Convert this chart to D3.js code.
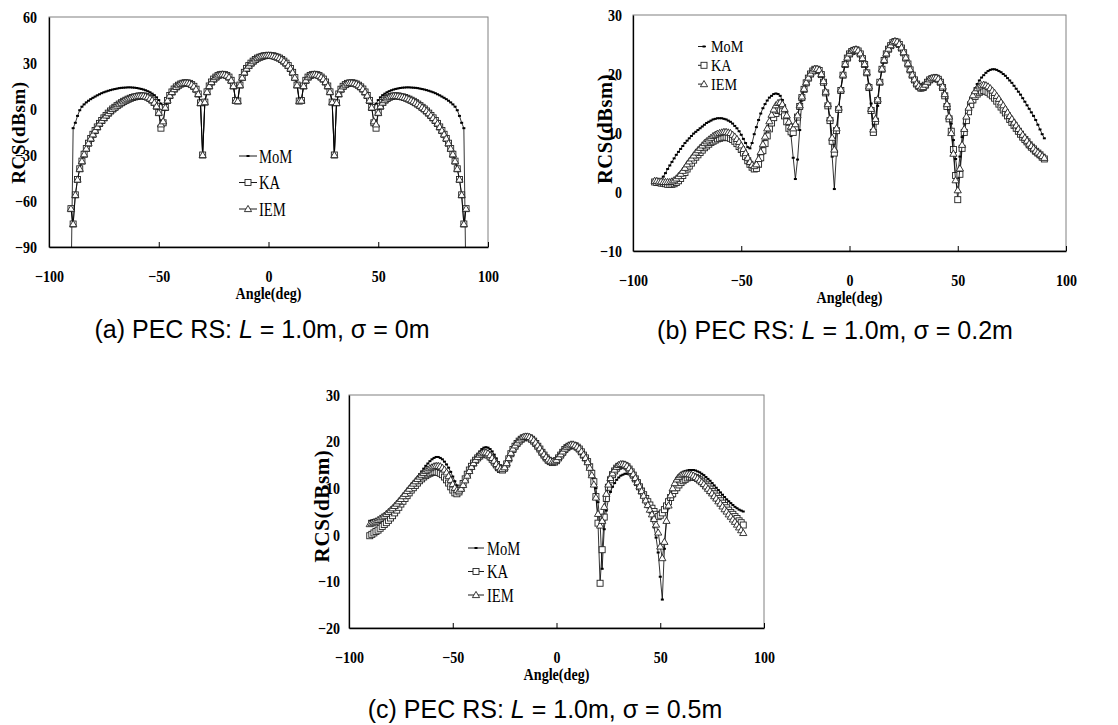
<!DOCTYPE html>
<html>
<head>
<meta charset="utf-8">
<script src="https://cdn.jsdelivr.net/npm/d3@7"></script>
<style>
  body { margin: 0; background: #fff; }
  svg { display: block; }
</style>
</head>
<body>
<svg id="fig" width="1118" height="725"></svg>
<script>
// Incidence angle grid, one sample per degree
const angles = d3.range(-90, 91);

// (a) sigma = 0m
const momA = [
  -120, -12.5, -9.0, -4.5, -0.8, 1.5, 3.0, 4.3, 5.4, 6.4,
  7.3, 8.1, 8.9, 9.6, 10.3, 10.9, 11.4, 11.9, 12.3, 12.7,
  13.0, 13.3, 13.6, 13.8, 13.9, 14.0, 14.1, 14.1, 14.0, 13.9,
  13.7, 13.4, 13.1, 12.7, 12.2, 11.6, 10.9, 10.0, 9.0, 7.6,
  5.8, 3.5, 2.5, 4.0, 7.0, 10.2, 12.6, 14.5, 15.7, 16.7,
  17.4, 17.9, 18.1, 18.0, 17.6, 16.8, 15.7, 13.7, 10.5, 4.5,
  -30, 5.0, 11.8, 15.7, 18.4, 20.3, 21.7, 22.7, 23.3, 23.5,
  23.3, 22.8, 21.6, 19.4, 15.6, 6.0, 6.0, 16.5, 21.5, 25.0,
  27.6, 29.6, 31.2, 32.5, 33.6, 34.5, 35.1, 35.6, 36.0, 36.2,
  36.3, 36.2, 36.0, 35.6, 35.1, 34.5, 33.6, 32.5, 31.2, 29.6,
  27.6, 25.0, 21.5, 16.5, 6.0, 6.0, 15.6, 19.4, 21.6, 22.8,
  23.3, 23.5, 23.3, 22.7, 21.7, 20.3, 18.4, 15.7, 11.8, 5.0,
  -30, 4.5, 10.5, 13.7, 15.7, 16.8, 17.6, 18.0, 18.1, 17.9,
  17.4, 16.7, 15.7, 14.5, 12.6, 10.2, 7.0, 4.0, 2.5, 3.5,
  5.8, 7.6, 9.0, 10.0, 10.9, 11.6, 12.2, 12.7, 13.1, 13.4,
  13.7, 13.9, 14.0, 14.1, 14.1, 14.0, 13.9, 13.8, 13.6, 13.3,
  13.0, 12.7, 12.3, 11.9, 11.4, 10.9, 10.3, 9.6, 8.9, 8.1,
  7.3, 6.4, 5.4, 4.3, 3.0, 1.5, -0.8, -4.5, -9.0, -12.5, -120
];
const kaA = [
  -65, -75, -56, -46, -39, -34, -29.5, -25.8, -22.3, -19.2,
  -16.5, -14.0, -11.7, -9.4, -7.5, -5.8, -4.2, -2.7, -1.3, 0.0,
  1.1, 2.2, 3.2, 4.1, 5.0, 5.7, 6.4, 7.0, 7.5, 7.9,
  8.2, 8.5, 8.6, 8.5, 8.2, 7.7, 6.9, 5.8, 4.2, 1.8,
  -2.4, -12.5, -9.0, 1.0, 5.6, 8.8, 11.1, 13.0, 14.4, 15.5,
  16.3, 16.8, 17.1, 17.0, 16.7, 15.9, 14.8, 12.9, 9.8, 4.0,
  -30, 4.5, 11.2, 15.0, 17.6, 19.5, 20.8, 21.8, 22.4, 22.6,
  22.4, 21.9, 20.8, 18.7, 15.0, 5.5, 5.2, 15.6, 20.5, 23.9,
  26.4, 28.3, 29.9, 31.2, 32.3, 33.2, 33.8, 34.3, 34.7, 34.9,
  35.0, 34.9, 34.7, 34.3, 33.8, 33.2, 32.3, 31.2, 29.9, 28.3,
  26.4, 23.9, 20.5, 15.6, 5.2, 5.5, 15.0, 18.7, 20.8, 21.9,
  22.4, 22.6, 22.4, 21.8, 20.8, 19.5, 17.6, 15.0, 11.2, 4.5,
  -30, 4.0, 9.8, 12.9, 14.8, 15.9, 16.7, 17.0, 17.1, 16.8,
  16.3, 15.5, 14.4, 13.0, 11.1, 8.8, 5.6, 1.0, -9.0, -12.5,
  -2.4, 1.8, 4.2, 5.8, 6.9, 7.7, 8.2, 8.5, 8.6, 8.5,
  8.2, 7.9, 7.5, 7.0, 6.4, 5.7, 5.0, 4.1, 3.2, 2.2,
  1.1, 0.0, -1.3, -2.7, -4.2, -5.8, -7.5, -9.4, -11.7, -14.0,
  -16.5, -19.2, -22.3, -25.8, -29.5, -34, -39, -46, -56, -75, -65
];
const iemA = [
  -65, -75, -56, -46, -39, -34, -29.5, -25.8, -22.3, -19.2,
  -16.5, -14.0, -11.7, -9.4, -7.5, -5.8, -4.2, -2.7, -1.3, 0.0,
  1.1, 2.2, 3.2, 4.1, 5.0, 5.7, 6.4, 7.0, 7.5, 7.9,
  8.2, 8.5, 8.6, 8.5, 8.2, 7.7, 6.9, 5.8, 4.2, 1.8,
  -2.4, -10.0, -8.0, 1.0, 5.6, 8.8, 11.1, 13.0, 14.4, 15.5,
  16.3, 16.8, 17.1, 17.0, 16.7, 15.9, 14.8, 12.9, 9.8, 4.0,
  -30, 4.5, 11.2, 15.0, 17.6, 19.5, 20.8, 21.8, 22.4, 22.6,
  22.4, 21.9, 20.8, 18.7, 15.0, 5.5, 5.2, 15.6, 20.5, 23.9,
  26.4, 28.3, 29.9, 31.2, 32.3, 33.2, 33.8, 34.3, 34.7, 34.9,
  35.0, 34.9, 34.7, 34.3, 33.8, 33.2, 32.3, 31.2, 29.9, 28.3,
  26.4, 23.9, 20.5, 15.6, 5.2, 5.5, 15.0, 18.7, 20.8, 21.9,
  22.4, 22.6, 22.4, 21.8, 20.8, 19.5, 17.6, 15.0, 11.2, 4.5,
  -30, 4.0, 9.8, 12.9, 14.8, 15.9, 16.7, 17.0, 17.1, 16.8,
  16.3, 15.5, 14.4, 13.0, 11.1, 8.8, 5.6, 1.0, -8.0, -10.0,
  -2.4, 1.8, 4.2, 5.8, 6.9, 7.7, 8.2, 8.5, 8.6, 8.5,
  8.2, 7.9, 7.5, 7.0, 6.4, 5.7, 5.0, 4.1, 3.2, 2.2,
  1.1, 0.0, -1.3, -2.7, -4.2, -5.8, -7.5, -9.4, -11.7, -14.0,
  -16.5, -19.2, -22.3, -25.8, -29.5, -34, -39, -46, -56, -75, -65
];

// (b) sigma = 0.2m
const momB = [
  1.8, 1.8, 1.9, 2.1, 2.6, 3.2, 3.9, 4.5, 5.1, 5.7,
  6.3, 6.8, 7.3, 7.8, 8.3, 8.7, 9.1, 9.5, 9.9, 10.2,
  10.5, 10.8, 11.1, 11.4, 11.7, 11.9, 12.1, 12.3, 12.4, 12.5,
  12.5, 12.5, 12.4, 12.3, 12.1, 11.9, 11.6, 11.2, 10.8, 10.3,
  9.7, 9.0, 8.3, 7.6, 7.4, 8.3, 9.8, 11.0, 12.2, 13.3,
  14.2, 14.9, 15.5, 16.0, 16.3, 16.6, 16.7, 16.6, 16.3, 15.6,
  14.7, 13.5, 11.9, 9.5, 5.8, 2.2, 5.5, 10.5, 15.5, 17.5,
  18.7, 19.5, 20.2, 20.7, 21.0, 21.0, 20.8, 20.1, 18.9, 17.2,
  15.0, 11.8, 6.0, 0.5, 6.8, 14.2, 17.6, 20.0, 21.8, 22.9,
  23.6, 24.0, 24.2, 24.3, 24.1, 23.6, 22.8, 21.8, 20.5, 18.3,
  15.0, 11.5, 9.8, 14.6, 18.5, 20.9, 22.4, 23.5, 24.4, 25.0,
  25.5, 25.7, 25.6, 25.2, 24.6, 23.8, 22.9, 21.8, 20.7, 19.6,
  18.7, 18.0, 17.4, 17.2, 17.4, 17.9, 18.6, 19.1, 19.5, 19.7,
  19.8, 19.6, 19.2, 18.5, 17.4, 15.9, 14.0, 11.6, 8.8, 5.6,
  3.0, 6.0, 9.3, 11.6, 13.3, 14.7, 15.8, 16.8, 17.6, 18.3,
  18.9, 19.4, 19.8, 20.2, 20.5, 20.7, 20.8, 20.8, 20.7, 20.5,
  20.3, 20.0, 19.7, 19.3, 18.9, 18.5, 18.0, 17.5, 17.0, 16.5,
  15.9, 15.3, 14.7, 14.1, 13.5, 12.9, 12.2, 11.4, 10.6, 9.8, 9.1
];
const kaB = [
  1.7, 1.6, 1.6, 1.5, 1.5, 1.4, 1.3, 1.3, 1.3, 1.4,
  1.6, 1.9, 2.3, 2.8, 3.3, 3.9, 4.4, 4.9, 5.4, 5.9,
  6.3, 6.7, 7.1, 7.5, 7.8, 8.1, 8.4, 8.6, 8.8, 9.0,
  9.1, 9.2, 9.3, 9.3, 9.2, 9.1, 8.9, 8.6, 8.2, 7.7,
  7.2, 6.6, 6.0, 5.3, 4.7, 4.2, 3.9, 4.0, 4.7, 5.8,
  7.0, 8.2, 9.5, 10.7, 11.7, 12.6, 13.3, 13.8, 13.9, 13.6,
  12.9, 11.9, 10.8, 10.2, 10.1, 11.0, 12.7, 14.5, 16.0, 17.4,
  18.5, 19.3, 20.0, 20.5, 20.8, 20.8, 20.6, 19.9, 18.6, 16.8,
  14.6, 12.1, 8.6, 6.6, 10.4, 14.0, 17.2, 19.8, 21.6, 22.7,
  23.4, 23.8, 24.0, 24.1, 23.9, 23.4, 22.6, 21.6, 20.2, 17.7,
  13.8, 10.1, 12.0, 15.5, 18.6, 20.8, 22.3, 23.4, 24.2, 24.8,
  25.3, 25.5, 25.4, 25.0, 24.4, 23.6, 22.7, 21.7, 20.7, 19.8,
  19.0, 18.3, 17.9, 17.6, 17.7, 18.1, 18.6, 19.0, 19.2, 19.3,
  19.3, 19.1, 18.6, 17.7, 16.3, 14.5, 12.4, 10.3, 7.2, 2.8,
  -1.3, 3.0, 7.4, 10.1, 12.1, 13.6, 14.8, 15.6, 16.2, 16.6,
  16.9, 17.1, 17.2, 17.1, 16.9, 16.6, 16.3, 15.9, 15.4, 14.9,
  14.4, 13.9, 13.4, 12.9, 12.3, 11.8, 11.3, 10.8, 10.3, 9.8,
  9.3, 8.9, 8.5, 8.0, 7.6, 7.3, 6.9, 6.6, 6.3, 5.9, 5.6
];
const iemB = [
  1.9, 1.9, 1.8, 1.8, 1.7, 1.7, 1.7, 1.7, 1.8, 2.0,
  2.3, 2.7, 3.1, 3.6, 4.1, 4.7, 5.2, 5.7, 6.2, 6.7,
  7.1, 7.5, 7.9, 8.3, 8.6, 8.9, 9.2, 9.5, 9.7, 9.9,
  10.0, 10.1, 10.2, 10.2, 10.1, 10.0, 9.7, 9.4, 9.0, 8.5,
  7.9, 7.3, 6.6, 5.8, 5.1, 4.6, 4.4, 4.7, 5.6, 6.8,
  8.1, 9.4, 10.8, 12.0, 13.1, 14.0, 14.7, 15.1, 15.2, 14.9,
  14.1, 13.0, 11.9, 11.1, 10.8, 11.5, 13.0, 14.7, 16.2, 17.5,
  18.6, 19.4, 20.1, 20.6, 20.9, 20.9, 20.7, 20.0, 18.8, 17.0,
  14.9, 12.5, 9.2, 7.2, 10.8, 14.3, 17.4, 19.9, 21.7, 22.8,
  23.5, 23.9, 24.1, 24.2, 24.0, 23.5, 22.7, 21.7, 20.3, 17.9,
  14.1, 10.6, 12.4, 15.7, 18.7, 20.9, 22.4, 23.5, 24.3, 24.9,
  25.4, 25.6, 25.5, 25.1, 24.5, 23.7, 22.8, 21.8, 20.8, 19.9,
  19.1, 18.4, 18.0, 17.7, 17.8, 18.2, 18.7, 19.1, 19.3, 19.4,
  19.4, 19.2, 18.7, 17.9, 16.6, 14.9, 12.8, 10.0, 6.5, 2.0,
  0.3, 4.0, 8.0, 10.7, 12.8, 14.3, 15.5, 16.4, 17.1, 17.6,
  17.9, 18.1, 18.2, 18.1, 17.9, 17.6, 17.2, 16.8, 16.3, 15.8,
  15.2, 14.7, 14.1, 13.5, 12.9, 12.4, 11.8, 11.3, 10.7, 10.2,
  9.7, 9.2, 8.7, 8.2, 7.8, 7.4, 7.0, 6.7, 6.4, 6.1, 5.8
];

// (c) sigma = 0.5m
const momC = [
  3.0, 3.1, 3.2, 3.3, 3.4, 3.6, 3.8, 4.0, 4.3, 4.5,
  4.8, 5.2, 5.7, 6.2, 6.7, 7.2, 7.8, 8.4, 9.0, 9.7,
  10.3, 11.0, 11.7, 12.3, 13.0, 13.6, 14.2, 14.8, 15.3, 15.8,
  16.2, 16.5, 16.7, 16.7, 16.5, 16.2, 15.7, 15.1, 14.4, 13.5,
  12.5, 11.5, 10.6, 10.1, 10.3, 11.0, 11.9, 12.9, 13.9, 14.9,
  15.8, 16.6, 17.3, 17.9, 18.4, 18.7, 18.8, 18.7, 18.4, 17.9,
  17.2, 16.4, 15.6, 14.9, 14.4, 14.5, 15.2, 16.4, 17.6, 18.6,
  19.4, 20.0, 20.6, 21.0, 21.3, 21.5, 21.5, 21.4, 21.1, 20.6,
  20.0, 19.4, 18.8, 18.2, 17.6, 17.1, 16.7, 16.4, 16.3, 16.3,
  16.6, 17.1, 17.7, 18.3, 18.8, 19.2, 19.5, 19.7, 19.7, 19.6,
  19.3, 18.9, 18.4, 17.7, 16.9, 16.0, 15.0, 13.8, 12.2, 10.0,
  7.0, 2.8, -7.3, 1.2, 5.2, 7.6, 9.2, 10.3, 11.1, 11.8,
  12.3, 12.7, 12.9, 13.1, 13.1, 13.0, 12.7, 12.3, 11.8, 11.1,
  10.3, 9.4, 8.4, 7.3, 6.1, 4.8, 3.3, 1.6, -0.6, -3.8,
  -9.0, -13.9, -3.0, 3.0, 6.6, 8.8, 10.3, 11.4, 12.2, 12.8,
  13.2, 13.5, 13.7, 13.8, 13.9, 13.9, 13.9, 13.8, 13.6, 13.4,
  13.1, 12.8, 12.4, 12.0, 11.6, 11.1, 10.6, 10.1, 9.6, 9.1,
  8.6, 8.1, 7.6, 7.2, 6.8, 6.4, 6.0, 5.7, 5.4, 5.2, 5.0
];
const kaC = [
  -0.2, 0.1, 0.4, 0.7, 1.0, 1.4, 1.8, 2.2, 2.6, 3.1,
  3.6, 4.1, 4.7, 5.3, 5.9, 6.6, 7.2, 7.8, 8.4, 9.0,
  9.6, 10.1, 10.6, 11.1, 11.6, 12.0, 12.4, 12.7, 13.0, 13.2,
  13.4, 13.5, 13.5, 13.4, 13.2, 12.9, 12.4, 11.8, 11.1, 10.3,
  9.6, 9.0, 8.8, 9.2, 10.0, 11.0, 12.0, 13.0, 13.9, 14.7,
  15.4, 16.0, 16.5, 16.9, 17.2, 17.3, 17.3, 17.1, 16.7, 16.2,
  15.6, 15.0, 14.4, 14.0, 13.9, 14.3, 15.2, 16.3, 17.4, 18.3,
  19.0, 19.6, 20.1, 20.5, 20.8, 20.9, 20.9, 20.8, 20.5, 20.1,
  19.6, 19.0, 18.4, 17.7, 17.1, 16.5, 16.0, 15.7, 15.5, 15.6,
  15.9, 16.5, 17.1, 17.7, 18.3, 18.7, 19.0, 19.2, 19.2, 19.1,
  18.8, 18.4, 17.8, 17.1, 16.5, 15.7, 14.6, 13.2, 11.4, 8.2,
  2.5, -10.4, -3.2, 3.8, 7.8, 10.2, 11.8, 12.9, 13.7, 14.3,
  14.7, 14.9, 15.0, 14.9, 14.6, 14.1, 13.5, 12.8, 12.0, 11.2,
  10.3, 9.4, 8.6, 7.8, 7.1, 6.4, 5.7, 5.0, 4.4, 3.9,
  4.2, 4.7, 5.4, 6.2, 7.1, 8.0, 8.8, 9.5, 10.1, 10.7,
  11.2, 11.6, 11.9, 12.2, 12.4, 12.4, 12.4, 12.3, 12.1, 11.8,
  11.5, 11.1, 10.7, 10.3, 9.8, 9.3, 8.8, 8.3, 7.8, 7.3,
  6.8, 6.3, 5.8, 5.3, 4.8, 4.4, 3.9, 3.5, 3.0, 2.6, 2.1
];
const iemC = [
  2.3, 2.5, 2.7, 2.9, 3.2, 3.5, 3.8, 4.1, 4.5, 4.9,
  5.3, 5.7, 6.2, 6.7, 7.2, 7.7, 8.3, 8.8, 9.4, 9.9,
  10.5, 11.0, 11.5, 12.0, 12.5, 12.9, 13.3, 13.7, 14.0, 14.3,
  14.5, 14.7, 14.8, 14.8, 14.7, 14.4, 14.0, 13.4, 12.6, 11.8,
  10.9, 10.1, 9.6, 9.5, 9.9, 10.7, 11.7, 12.7, 13.7, 14.6,
  15.4, 16.1, 16.7, 17.2, 17.5, 17.7, 17.7, 17.5, 17.1, 16.5,
  15.9, 15.2, 14.6, 14.2, 14.1, 14.5, 15.4, 16.5, 17.6, 18.5,
  19.2, 19.8, 20.3, 20.7, 21.0, 21.1, 21.1, 21.0, 20.7, 20.3,
  19.8, 19.2, 18.6, 17.9, 17.3, 16.7, 16.2, 15.9, 15.7, 15.8,
  16.1, 16.7, 17.3, 17.9, 18.5, 18.9, 19.2, 19.4, 19.4, 19.2,
  18.9, 18.5, 17.9, 17.2, 16.5, 15.6, 14.4, 12.8, 10.8, 8.0,
  4.5, 2.0, 3.0, 6.0, 8.8, 10.8, 12.2, 13.2, 14.0, 14.6,
  15.0, 15.2, 15.2, 15.1, 14.8, 14.3, 13.7, 13.0, 12.2, 11.3,
  10.4, 9.4, 8.4, 7.4, 6.4, 5.4, 4.4, 3.4, 2.2, 0.5,
  -2.5, -5.0, -1.5, 3.0, 6.3, 8.5, 10.0, 11.1, 11.9, 12.4,
  12.8, 13.0, 13.1, 13.1, 13.0, 12.9, 12.7, 12.4, 12.1, 11.7,
  11.3, 10.9, 10.4, 9.9, 9.4, 8.9, 8.3, 7.8, 7.2, 6.7,
  6.1, 5.5, 5.0, 4.4, 3.9, 3.3, 2.8, 2.2, 1.6, 1.0, 0.4
];

const seriesNames = ['MoM', 'KA', 'IEM'];
const xTicks = [-100, -50, 0, 50, 100];
const yTicksA = [60, 30, 0, -30, -60, -90];
const yTicksB = [30, 20, 10, 0, -10];
const yTicksC = [30, 20, 10, 0, -10, -20];
const sigmas = ['0m', '0.2m', '0.5m'];

// layout of the three sub-figures (pixels)
const panels = [
  { key: 'a', left: 49, right: 488, top: 17, bottom: 247, yDomain: [-90, 60], yTicks: yTicksA,
    series: [momA, kaA, iemA], yPad: 12,
    yTitle: { x: 18.5, y: 132.5, size: 19 },
    legend: { x0: 239, x1: 257, xm: 248, tx: 259, y: 156, dy: 26.5, size: 19.5, sx: 0.75 },
    caption: { x: 262, y: 338 } },
  { key: 'b', left: 633, right: 1066, top: 15, bottom: 251, yDomain: [-10, 30], yTicks: yTicksB,
    series: [momB, kaB, iemB], yPad: 11,
    yTitle: { x: 605, y: 129, size: 20.5 },
    legend: { x0: 698, x1: 706, xm: 704, tx: 711, y: 46.5, dy: 18.8, size: 16.5, sx: 0.86 },
    caption: { x: 835, y: 339 } },
  { key: 'c', left: 349, right: 764, top: 395, bottom: 628, yDomain: [-20, 30], yTicks: yTicksC,
    series: [momC, kaC, iemC], yPad: 9,
    yTitle: { x: 322, y: 506, size: 21 },
    legend: { x0: 468, x1: 484, xm: 476, tx: 487, y: 548, dy: 23.5, size: 19.5, sx: 0.75 },
    caption: { x: 545, y: 718 } }
];

const svg = d3.select('#fig');
const serif = 'Liberation Serif, Times New Roman, serif';
const sans = 'Liberation Sans, Arial, Helvetica, sans-serif';
const squeeze = 0.85;

// draw one marker of series i at (0,0) in group g
function marker(g, i) {
  if (i === 0) {
    g.append('rect').attr('x', -1.5).attr('y', -1).attr('width', 3).attr('height', 2)
      .attr('fill', '#000');
  } else if (i === 1) {
    g.append('rect').attr('x', -3).attr('y', -3).attr('width', 6).attr('height', 6)
      .attr('fill', '#fff').attr('stroke', '#222').attr('stroke-width', 0.9);
  } else {
    g.append('path').attr('d', 'M0,-3.6L3.6,2.6L-3.6,2.6Z')
      .attr('fill', '#fff').attr('stroke', '#222').attr('stroke-width', 0.9);
  }
}

function drawPanel(p) {
  const x = d3.scaleLinear().domain([-100, 100]).range([p.left, p.right]);
  const y = d3.scaleLinear().domain(p.yDomain).range([p.bottom, p.top]);
  const g = svg.append('g').attr('class', 'panel-' + p.key);

  g.append('clipPath').attr('id', 'clip-' + p.key)
    .append('rect')
    .attr('x', p.left).attr('y', p.top)
    .attr('width', p.right - p.left).attr('height', p.bottom - p.top);

  // plot area border (grey top/right)
  g.append('rect')
    .attr('x', p.left).attr('y', p.top)
    .attr('width', p.right - p.left).attr('height', p.bottom - p.top)
    .attr('fill', 'none').attr('stroke', '#808080').attr('stroke-width', 1);

  // series: line first, then its markers, series by series
  const plot = g.append('g').attr('clip-path', 'url(#clip-' + p.key + ')');
  const line = d3.line().x((d, j) => x(angles[j])).y(d => y(d));
  p.series.forEach((vals, i) => {
    plot.append('path').datum(vals)
      .attr('d', line)
      .attr('fill', 'none').attr('stroke', '#000').attr('stroke-width', 0.8);
    const m = plot.append('g');
    vals.forEach((v, j) => {
      const mg = m.append('g').attr('transform', `translate(${x(angles[j])},${y(v)})`);
      marker(mg, i);
    });
  });

  // x axis, ticks pointing inward
  const xAxis = g.append('g')
    .attr('transform', `translate(0,${p.bottom})`)
    .call(d3.axisBottom(x).tickValues(xTicks).tickSizeInner(-5).tickSizeOuter(0).tickPadding(23));
  xAxis.select('.domain').attr('stroke', '#000').attr('stroke-width', 1.3);
  xAxis.selectAll('.tick line').attr('stroke', '#000').attr('stroke-width', 1);
  xAxis.selectAll('text')
    .attr('font-family', serif).attr('font-weight', 'bold').attr('font-size', 16.5)
    .attr('fill', '#000').attr('transform', `scale(${squeeze},1)`);

  // y axis, no tick marks
  const yAxis = g.append('g')
    .attr('transform', `translate(${p.left},0)`)
    .call(d3.axisLeft(y).tickValues(p.yTicks).tickSize(0).tickPadding(p.yPad));
  yAxis.select('.domain').attr('stroke', '#000').attr('stroke-width', 1.3);
  yAxis.selectAll('text')
    .attr('font-family', serif).attr('font-weight', 'bold').attr('font-size', 16.5)
    .attr('fill', '#000')
    .attr('x', -p.yPad / squeeze)
    .attr('transform', `scale(${squeeze},1)`);

  // axis titles
  g.append('text')
    .attr('transform', `translate(${(p.left + p.right) / 2},${p.bottom + 52}) scale(0.83,1)`)
    .attr('text-anchor', 'middle')
    .attr('font-family', serif).attr('font-weight', 'bold').attr('font-size', 17)
    .text('Angle(deg)');
  g.append('text')
    .attr('transform', `translate(${p.yTitle.x},${p.yTitle.y}) rotate(-90)`)
    .attr('text-anchor', 'middle').attr('dy', '0.35em')
    .attr('font-family', serif).attr('font-weight', 'bold').attr('font-size', p.yTitle.size)
    .attr('letter-spacing', 0.6)
    .text('RCS(dBsm)');

  // legend
  const L = p.legend;
  seriesNames.forEach((name, i) => {
    const ry = L.y + i * L.dy;
    g.append('line')
      .attr('x1', L.x0).attr('x2', L.x1).attr('y1', ry).attr('y2', ry)
      .attr('stroke', '#000').attr('stroke-width', 0.9);
    marker(g.append('g').attr('transform', `translate(${L.xm},${ry})`), i);
    g.append('text')
      .attr('transform', `translate(${L.tx},${ry + L.size / 3}) scale(${L.sx},1)`)
      .attr('font-family', serif).attr('font-size', L.size)
      .text(name);
  });
}

panels.forEach(drawPanel);

// captions under each sub-figure
panels.forEach((p, i) => {
  const t = svg.append('text')
    .attr('x', p.caption.x).attr('y', p.caption.y)
    .attr('text-anchor', 'middle')
    .attr('font-family', sans).attr('font-size', 25)
    .attr('fill', '#000');
  t.append('tspan').text(`(${p.key}) PEC RS: `);
  t.append('tspan').attr('font-style', 'italic').text('L');
  t.append('tspan').text(` = 1.0m, \u03c3 = ${sigmas[i]}`);
});
</script>
</body>
</html>
